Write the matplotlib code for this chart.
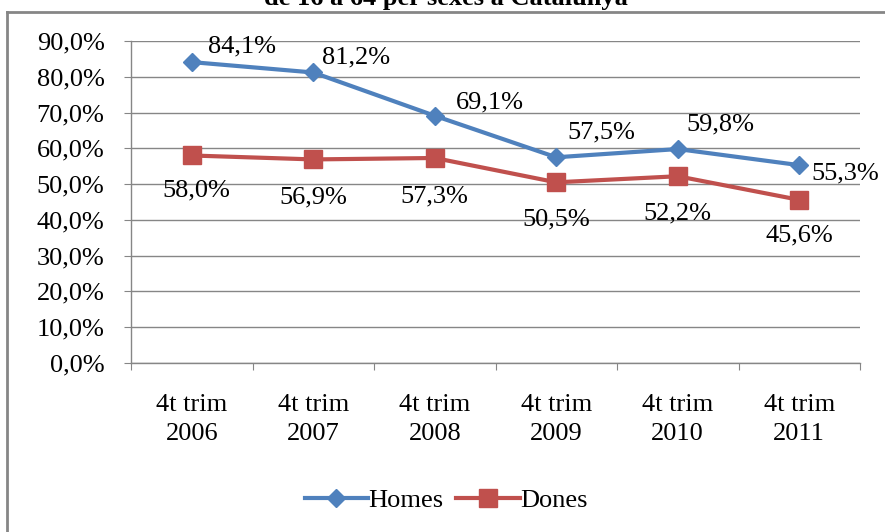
import numpy as np
import matplotlib
matplotlib.use("Agg")
import matplotlib.pyplot as plt
from matplotlib.lines import Line2D

categories = ["4t trim\n2006", "4t trim\n2007", "4t trim\n2008",
              "4t trim\n2009", "4t trim\n2010", "4t trim\n2011"]
homes = [84.1, 81.2, 69.1, 57.5, 59.8, 55.3]
dones = [58.0, 56.9, 57.3, 50.5, 52.2, 45.6]
yticks = [0, 10, 20, 30, 40, 50, 60, 70, 80, 90]

# label offsets in pixels (Excel placed them by hand)
homes_off = [(50, 16), (43, 15), (55, 13), (45, 25), (43, 25), (46, -8)]
dones_off = [(5, -35), (0, -38), (0, -38), (0, -37), (0, -37), (0, -36)]

def fmt(v):
    return ("%.1f%%" % v).replace(".", ",")

plt.rcParams['font.family'] = ['Liberation Serif', 'DejaVu Serif']
fs = 19
blue = '#4F81BD'
red = '#C0504D'
grey = '#868686'

fig = plt.figure(figsize=(8.85, 5.32), dpi=100)
ax = fig.add_axes([131/885, 1-363/532, 729/885, 322/532])

x = np.arange(len(categories))
ax.plot(x, homes, color=blue, lw=3, marker='D', ms=9, label='Homes', zorder=3)
ax.plot(x, dones, color=red, lw=3, marker='s', ms=13, label='Dones', zorder=3)

for i in range(len(x)):
    ax.annotate(fmt(homes[i]), (x[i], homes[i]), xytext=homes_off[i],
                textcoords='offset pixels', ha='center', va='center', fontsize=fs)
    ax.annotate(fmt(dones[i]), (x[i], dones[i]), xytext=dones_off[i],
                textcoords='offset pixels', ha='center', va='center', fontsize=fs)

ax.set_xlim(-0.5, len(x) - 0.5)
ax.set_ylim(0, 90)
ax.set_yticks(yticks)
ax.set_yticklabels([fmt(v) for v in yticks], fontsize=fs)
ax.yaxis.grid(True, color=grey, lw=1)
ax.set_axisbelow(True)

ax.set_xticks(np.arange(-0.5, len(x), 1.0))
ax.set_xticklabels([])
ax.set_xticks(x, minor=True)
ax.set_xticklabels(categories, minor=True, fontsize=fs, linespacing=1.45)
ax.tick_params(axis='x', which='minor', length=0, pad=22)
ax.tick_params(axis='x', which='major', length=5, color=grey, direction='out')
ax.tick_params(axis='y', length=5, color=grey, pad=14)

for s in ['top', 'right']:
    ax.spines[s].set_visible(False)
for s in ['left', 'bottom']:
    ax.spines[s].set_color(grey)
    ax.spines[s].set_linewidth(1)

fig.legend(loc='center', bbox_to_anchor=(446/885, 1-500/532), ncol=2,
           frameon=False, fontsize=fs, handlelength=2.4, handletextpad=0.0,
           columnspacing=0.5)

# chart frame (only top and left edge visible)
fig.add_artist(Line2D([7/885, 1.0], [1-12/532, 1-12/532], color=grey, lw=2,
                      transform=fig.transFigure))
fig.add_artist(Line2D([7/885, 7/885], [0, 1-12/532], color=grey, lw=2,
                      transform=fig.transFigure))

fig.text(446/885, 1-5/532, "de 16 a 64 per sexes a Catalunya", ha='center',
         va='baseline', fontsize=19, fontweight='bold')

fig.savefig('out.png', dpi=100)
